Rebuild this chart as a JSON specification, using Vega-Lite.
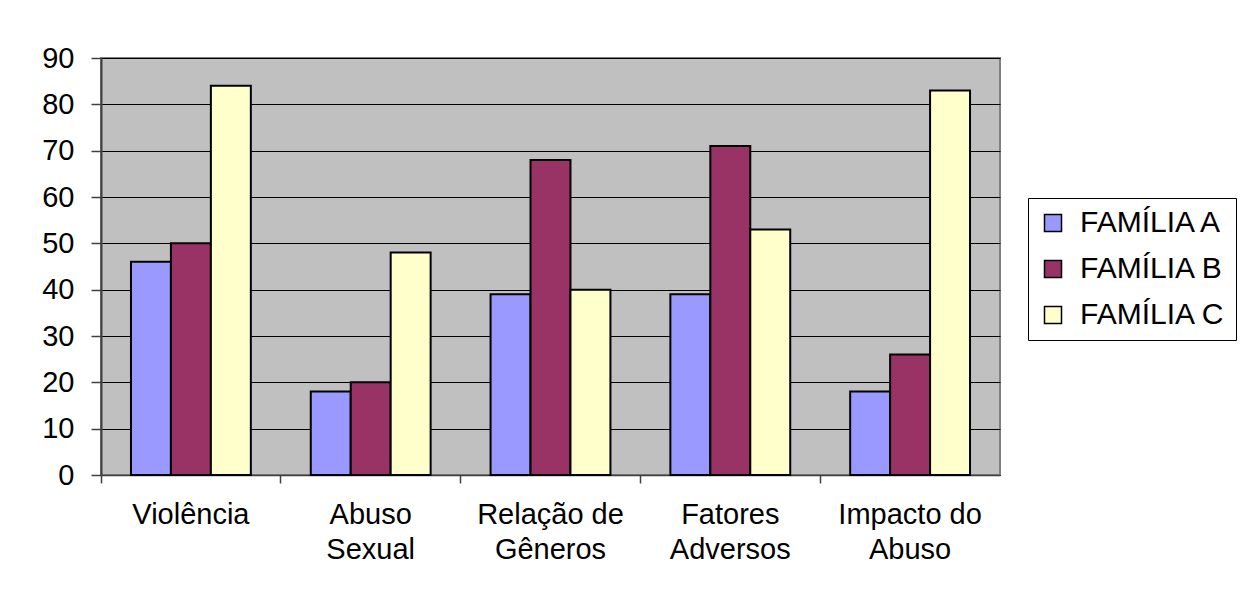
{
  "$schema": "https://vega.github.io/schema/vega-lite/v6.json",
  "width": 899,
  "height": 417,
  "autosize": {"type": "none"},
  "padding": {"left": 101, "top": 58, "right": 240, "bottom": 117},
  "background": "white",
  "config": {
    "font": "Liberation Sans",
    "view": {"fill": "#C0C0C0", "stroke": "#808080", "strokeWidth": 2}
  },
  "data": {
    "values": [
      {"tema": "Violência", "familia": "FAMÍLIA A", "valor": 46},
      {"tema": "Violência", "familia": "FAMÍLIA B", "valor": 50},
      {"tema": "Violência", "familia": "FAMÍLIA C", "valor": 84},
      {"tema": "Abuso Sexual", "familia": "FAMÍLIA A", "valor": 18},
      {"tema": "Abuso Sexual", "familia": "FAMÍLIA B", "valor": 20},
      {"tema": "Abuso Sexual", "familia": "FAMÍLIA C", "valor": 48},
      {"tema": "Relação de Gêneros", "familia": "FAMÍLIA A", "valor": 39},
      {"tema": "Relação de Gêneros", "familia": "FAMÍLIA B", "valor": 68},
      {"tema": "Relação de Gêneros", "familia": "FAMÍLIA C", "valor": 40},
      {"tema": "Fatores Adversos", "familia": "FAMÍLIA A", "valor": 39},
      {"tema": "Fatores Adversos", "familia": "FAMÍLIA B", "valor": 71},
      {"tema": "Fatores Adversos", "familia": "FAMÍLIA C", "valor": 53},
      {"tema": "Impacto do Abuso", "familia": "FAMÍLIA A", "valor": 18},
      {"tema": "Impacto do Abuso", "familia": "FAMÍLIA B", "valor": 26},
      {"tema": "Impacto do Abuso", "familia": "FAMÍLIA C", "valor": 83}
    ]
  },
  "mark": {"type": "bar", "stroke": "black", "strokeWidth": 2},
  "encoding": {
    "x": {
      "field": "tema",
      "type": "nominal",
      "sort": null,
      "scale": {"paddingInner": 0, "paddingOuter": 0},
      "axis": {
        "title": null,
        "labelAngle": 0,
        "bandPosition": 0,
        "labelExpr": "datum.value == 'Violência' ? 'Violência' : datum.value == 'Abuso Sexual' ? ['Abuso', 'Sexual'] : datum.value == 'Relação de Gêneros' ? ['Relação de', 'Gêneros'] : datum.value == 'Fatores Adversos' ? ['Fatores', 'Adversos'] : ['Impacto do', 'Abuso']",
        "labelFontSize": 29,
        "labelColor": "black",
        "labelPadding": 17,
        "labelLineHeight": 35,
        "labelBaseline": "top",
        "labelBound": false,
        "labelOverlap": false,
        "tickSize": 8,
        "tickColor": "#404040",
        "tickWidth": 1.5,
        "domainColor": "#404040",
        "domainWidth": 1.5,
        "grid": false
      }
    },
    "xOffset": {
      "field": "familia",
      "type": "nominal",
      "scale": {"paddingInner": 0, "paddingOuter": 0.75}
    },
    "y": {
      "field": "valor",
      "type": "quantitative",
      "scale": {"domain": [0, 90], "nice": false},
      "axis": {
        "title": null,
        "values": [0, 10, 20, 30, 40, 50, 60, 70, 80, 90],
        "labelFontSize": 29,
        "labelColor": "black",
        "labelPadding": 17,
        "labelOverlap": false,
        "tickSize": 10,
        "tickColor": "#404040",
        "tickWidth": 1.5,
        "domainColor": "#404040",
        "domainWidth": 2,
        "grid": true,
        "gridColor": "black",
        "gridWidth": 1.2,
        "gridOpacity": 1
      }
    },
    "fill": {
      "field": "familia",
      "type": "nominal",
      "scale": {
        "domain": ["FAMÍLIA A", "FAMÍLIA B", "FAMÍLIA C"],
        "range": ["#9999FF", "#993366", "#FFFFCC"]
      },
      "legend": {
        "title": null,
        "orient": "none",
        "legendX": 927,
        "legendY": 140,
        "symbolType": "square",
        "symbolSize": 289,
        "symbolStrokeColor": "black",
        "symbolStrokeWidth": 1.5,
        "labelFontSize": 30,
        "labelColor": "black",
        "labelOffset": 12,
        "rowPadding": 16,
        "padding": 10,
        "strokeColor": "black",
        "fillColor": "white"
      }
    }
  }
}
